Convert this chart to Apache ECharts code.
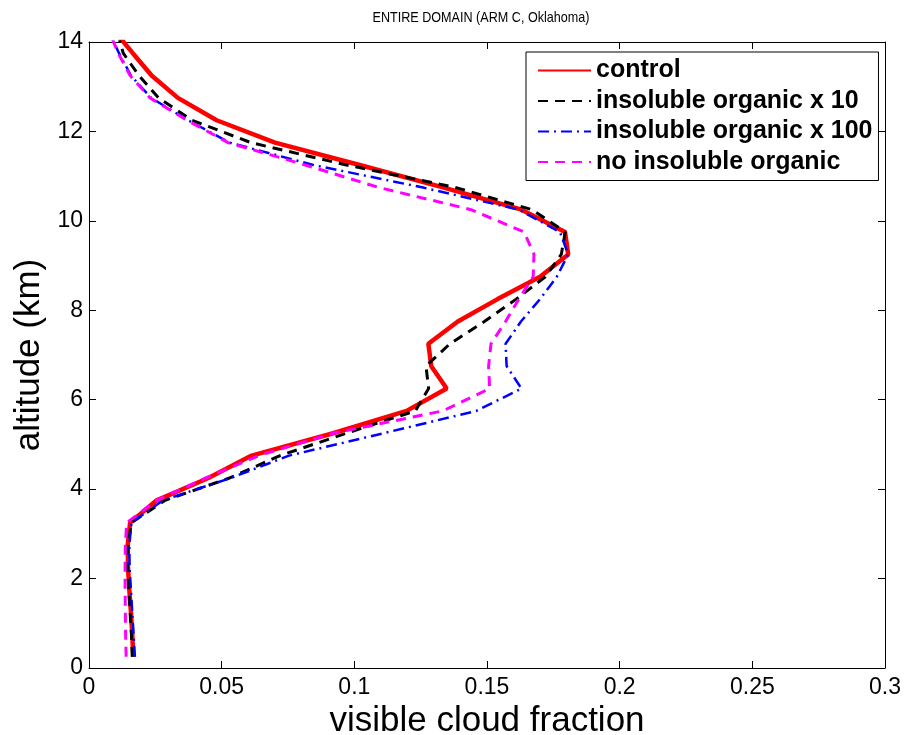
<!DOCTYPE html>
<html>
<head>
<meta charset="utf-8">
<script src="https://cdn.jsdelivr.net/npm/echarts@6/dist/echarts.min.js"></script>
<style>
html,body{margin:0;padding:0;background:#fff;}
#chart{width:905px;height:735px;}
</style>
</head>
<body>
<div id="chart"></div>
<script>
// altitude levels (km)
const altitude = [0.25, 0.75, 1.25, 1.75, 2.25, 2.75, 3.25, 3.75, 4.25, 4.75, 5.25, 5.75, 6.25, 6.75, 7.25, 7.75, 8.25, 8.75, 9.25, 9.75, 10.25, 10.75, 11.25, 11.75, 12.25, 12.75, 13.25, 13.75, 14.25];

const control = [0.0167, 0.0163, 0.0158, 0.0152, 0.0147, 0.0146, 0.0155, 0.0255, 0.045, 0.0613, 0.092, 0.1197, 0.1348, 0.129, 0.1279, 0.139, 0.154, 0.170, 0.1806, 0.1794, 0.163, 0.1334, 0.102, 0.0701, 0.0481, 0.0335, 0.0236, 0.0165, 0.0095];
const insolX10 = [0.0163, 0.0160, 0.0155, 0.0150, 0.0146, 0.0147, 0.0160, 0.0287, 0.053, 0.072, 0.097, 0.123, 0.128, 0.127, 0.136, 0.149, 0.161, 0.172, 0.178, 0.1795, 0.167, 0.138, 0.097, 0.061, 0.0388, 0.0262, 0.0188, 0.0129, 0.0105];
const insolX100 = [0.0173, 0.0168, 0.0163, 0.0158, 0.0153, 0.0152, 0.0160, 0.0279, 0.0535, 0.0754, 0.111, 0.146, 0.163, 0.1574, 0.157, 0.1628, 0.170, 0.1763, 0.1806, 0.1775, 0.162, 0.1255, 0.0845, 0.053, 0.0373, 0.0234, 0.0158, 0.0113, 0.0075];
const noInsol = [0.0140, 0.0138, 0.0137, 0.0136, 0.0136, 0.0137, 0.0142, 0.0255, 0.044, 0.064, 0.092, 0.1334, 0.151, 0.1506, 0.1515, 0.157, 0.162, 0.1674, 0.1677, 0.164, 0.144, 0.109, 0.0815, 0.0524, 0.037, 0.023, 0.0155, 0.011, 0.0075];

const seriesNames = ['control', 'insoluble organic x 10', 'insoluble organic x 100', 'no insoluble organic'];
const titleText = 'ENTIRE DOMAIN (ARM C, Oklahoma)';
const xTicks = {min: 0, max: 0.3, interval: 0.05};
const yTicks = {min: 0, max: 14, interval: 2};

const FONT = "'Liberation Sans', Arial, Helvetica, sans-serif";

function pairs(vals) { return vals.map((v, i) => [v, altitude[i]]); }

const chart = echarts.init(document.getElementById('chart'), null, {renderer: 'canvas'});

const axisCommon = {
  axisLine: {show: true, onZero: false, lineStyle: {color: '#000', width: 1}},
  axisTick: {show: true, inside: true, length: 7, lineStyle: {color: '#000', width: 1}},
  splitLine: {show: false}
};

chart.setOption({
  animation: false,
  backgroundColor: '#fff',
  graphic: [{
    type: 'text', x: 481, y: 18, scaleX: 0.84, scaleY: 1,
    style: {text: titleText, font: "normal 15px " + FONT, fill: '#000', textAlign: 'center', textVerticalAlign: 'middle'}
  }],
  grid: {left: 89, right: 20, top: 42, bottom: 67, containLabel: false, outerBoundsMode: 'none'},
  legend: {
    orient: 'vertical', left: 526, top: 52,
    backgroundColor: '#fff', borderColor: '#000', borderWidth: 1,
    padding: [6, 6, 6, 11],
    itemWidth: 53, itemHeight: 14, itemGap: 5.5,
    itemStyle: {opacity: 0},
    textStyle: {fontFamily: FONT, fontSize: 25, fontWeight: 'bold', color: '#000', lineHeight: 24},
    data: seriesNames
  },
  xAxis: [
    Object.assign({type: 'value', position: 'bottom', min: xTicks.min, max: xTicks.max, interval: xTicks.interval,
      name: 'visible cloud fraction', nameLocation: 'middle', nameGap: 32,
      nameTextStyle: {fontFamily: FONT, fontSize: 35, color: '#000'},
      axisLabel: {fontFamily: FONT, fontSize: 23, color: '#000', margin: 8}}, axisCommon),
    Object.assign({type: 'value', position: 'top', min: xTicks.min, max: xTicks.max, interval: xTicks.interval,
      axisLabel: {show: false}}, axisCommon)
  ],
  yAxis: [
    Object.assign({type: 'value', position: 'left', min: yTicks.min, max: yTicks.max, interval: yTicks.interval,
      name: 'altitude (km)', nameLocation: 'middle', nameGap: 32,
      nameTextStyle: {fontFamily: FONT, fontSize: 35, color: '#000'},
      axisLabel: {fontFamily: FONT, fontSize: 23, color: '#000', margin: 6}}, axisCommon),
    Object.assign({type: 'value', position: 'right', min: yTicks.min, max: yTicks.max, interval: yTicks.interval,
      axisLabel: {show: false}}, axisCommon)
  ],
  series: [
    {name: seriesNames[0], type: 'line', data: pairs(control), symbol: 'none', clip: true,
      lineStyle: {color: '#ff0000', width: 4.5, type: 'solid'}, itemStyle: {color: '#ff0000'}},
    {name: seriesNames[1], type: 'line', data: pairs(insolX10), symbol: 'none', clip: true,
      lineStyle: {color: '#000000', width: 3, type: [10, 7]}, itemStyle: {color: '#000000'}},
    {name: seriesNames[2], type: 'line', data: pairs(insolX100), symbol: 'none', clip: true,
      lineStyle: {color: '#0000ff', width: 2.5, type: [11, 5, 2, 5]}, itemStyle: {color: '#0000ff'}},
    {name: seriesNames[3], type: 'line', data: pairs(noInsol), symbol: 'none', clip: true,
      lineStyle: {color: '#ff00ff', width: 3, type: [10, 7]}, itemStyle: {color: '#ff00ff'}}
  ]
});
</script>
</body>
</html>
